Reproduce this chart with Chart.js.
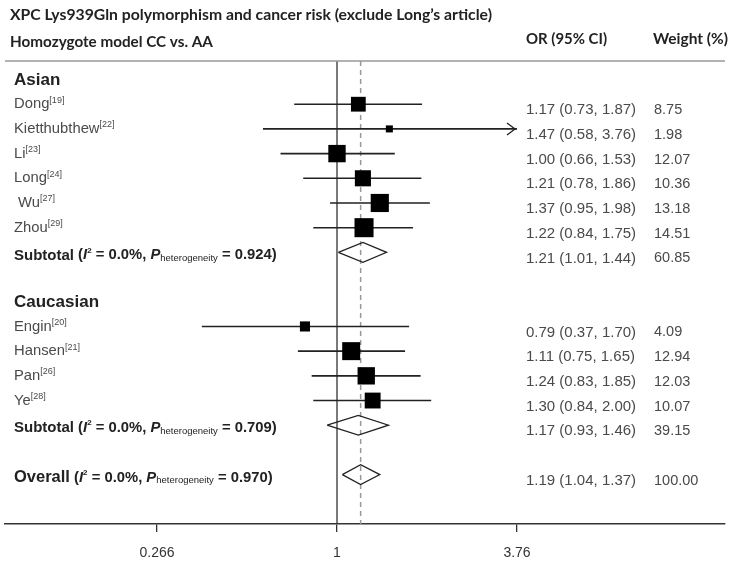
<!DOCTYPE html>
<html><head><meta charset="utf-8">
<script src="https://cdn.jsdelivr.net/npm/chart.js@4.4.0/dist/chart.umd.min.js"></script>
<style>html,body{margin:0;padding:0;background:#fff;}#wrap{width:750px;height:564px;position:relative;}</style>
</head><body><div id="wrap"><canvas id="c" width="750" height="564"></canvas></div>
<script>
// ---------- data ----------
const titleText = "XPC Lys939Gln polymorphism and cancer risk (exclude Long\u2019s article)";
const modelText = "Homozygote model CC vs. AA";
const colHeaders = ["OR (95% CI)", "Weight (%)"];
const groupNames = ["Asian", "Caucasian"];

const asianStudies = ["Dong", "Kietthubthew", "Li", "Long", " Wu", "Zhou"];
const asianRefs = ["19", "22", "23", "24", "27", "29"];
const asianOR = [1.17, 1.47, 1.00, 1.21, 1.37, 1.22];
const asianLo = [0.73, 0.58, 0.66, 0.78, 0.95, 0.84];
const asianHi = [1.87, 3.76, 1.53, 1.86, 1.98, 1.75];
const asianW  = [8.75, 1.98, 12.07, 10.36, 13.18, 14.51];

const caucStudies = ["Engin", "Hansen", "Pan", "Ye"];
const caucRefs = ["20", "21", "26", "28"];
const caucOR = [0.79, 1.11, 1.24, 1.30];
const caucLo = [0.37, 0.75, 0.83, 0.84];
const caucHi = [1.70, 1.65, 1.85, 2.00];
const caucW  = [4.09, 12.94, 12.03, 10.07];

const subtotalOR = [1.21, 1.17];
const subtotalLo = [1.01, 0.93];
const subtotalHi = [1.44, 1.46];
const subtotalW  = [60.85, 39.15];
const subtotalI2 = ["0.0%", "0.0%"];
const subtotalP  = ["0.924", "0.709"];

const overallOR = 1.19, overallLo = 1.04, overallHi = 1.37, overallW = 100.00;
const overallI2 = "0.0%", overallP = "0.970";

const tickValues = [0.266, 1, 3.76];

// ---------- build row table ----------
const rows = [];
function addGroup(gi, names, refs, or, lo, hi, w) {
  rows.push({type: 'group', label: groupNames[gi]});
  names.forEach((n, i) => rows.push({type: 'study', label: n, ref: refs[i], or: or[i], lo: lo[i], hi: hi[i], w: w[i]}));
  rows.push({type: 'sub', label: 'Subtotal', or: subtotalOR[gi], lo: subtotalLo[gi], hi: subtotalHi[gi], w: subtotalW[gi], i2: subtotalI2[gi], p: subtotalP[gi]});
  rows.push({type: 'blank'});
}
addGroup(0, asianStudies, asianRefs, asianOR, asianLo, asianHi, asianW);
addGroup(1, caucStudies, caucRefs, caucOR, caucLo, caucHi, caucW);
rows.push({type: 'overall', label: 'Overall', or: overallOR, lo: overallLo, hi: overallHi, w: overallW, i2: overallI2, p: overallP});
rows.forEach((r, i) => r.idx = i);

const clipHi = tickValues[tickValues.length - 1];
const yMin = -0.75, yMax = 18;
// axis range chosen so the axis line spans the page width
const xMin = Math.pow(clipHi, -332 / 180), xMax = Math.pow(clipHi, 388 / 180);

const ciData = [], sqData = [], sqRadius = [], diaData = [];
rows.forEach(r => {
  if (r.type === 'study') {
    ciData.push({x: r.lo, y: r.idx}, {x: Math.min(r.hi, clipHi), y: r.idx}, {x: 1, y: null});
    sqData.push({x: r.or, y: r.idx});
    sqRadius.push(5 * Math.sqrt(r.w) / Math.SQRT2);
  } else if (r.type === 'sub' || r.type === 'overall') {
    const h = 0.4;
    diaData.push({x: r.lo, y: r.idx}, {x: r.or, y: r.idx - h}, {x: r.hi, y: r.idx}, {x: r.or, y: r.idx + h}, {x: r.lo, y: r.idx}, {x: 1, y: null});
  }
});

// ---------- text plugin ----------
const SANS = '"Liberation Sans", Arial, sans-serif';
const HEAD = 'Lato, "Open Sans", sans-serif';
function fitFont(ctx, text, weight, family, target) {
  ctx.font = weight + ' 20px ' + family;
  const s = 20 * target / ctx.measureText(text).width;
  return weight + ' ' + s.toFixed(2) + 'px ' + family;
}
function drawSegs(ctx, x, y, segs) {
  segs.forEach(s => {
    ctx.font = s.f;
    ctx.fillText(s.t, x, y + (s.dy || 0));
    x += ctx.measureText(s.t).width;
  });
}
const forestText = {
  id: 'forestText',
  afterDraw(chart) {
    const {ctx, chartArea: a, scales: {x, y}} = chart;
    ctx.save();
    ctx.strokeStyle = '#999'; ctx.lineWidth = 1.5;
    ctx.beginPath(); ctx.moveTo(a.left, a.top); ctx.lineTo(a.right, a.top); ctx.stroke();

    ctx.textBaseline = 'middle'; ctx.textAlign = 'left'; ctx.fillStyle = '#222';
    ctx.font = fitFont(ctx, titleText, 'bold', HEAD, 482); ctx.fillText(titleText, 10, 15);
    ctx.font = fitFont(ctx, modelText, 'bold', HEAD, 203); ctx.fillText(modelText, 10, 42);
    ctx.font = fitFont(ctx, colHeaders[0], 'bold', HEAD, 81); ctx.fillText(colHeaders[0], 526, 39);
    ctx.font = fitFont(ctx, colHeaders[1], 'bold', HEAD, 75); ctx.fillText(colHeaders[1], 653, 39);

    const fmt = v => v.toFixed(2);
    rows.forEach(r => {
      const py = y.getPixelForValue(r.idx);
      if (r.type === 'group') {
        ctx.fillStyle = '#222'; ctx.font = 'bold 17px ' + SANS; ctx.fillText(r.label, 14, py + 1);
      } else if (r.type === 'study') {
        ctx.fillStyle = '#4a4a4a';
        drawSegs(ctx, 14, py, [{t: r.label, f: '14.8px ' + SANS}, {t: '[' + r.ref + ']', f: '9px ' + SANS, dy: -4}]);
      } else if (r.type === 'sub' || r.type === 'overall') {
        ctx.fillStyle = '#222';
        const big = r.type === 'overall' ? 'bold 16.5px ' : 'bold 15px ';
        drawSegs(ctx, 14, py + 3, [
          {t: r.label, f: big + SANS},
          {t: ' (', f: 'bold 14.8px ' + SANS},
          {t: 'I', f: 'italic bold 14.8px ' + SANS},
          {t: '2', f: 'bold 8px ' + SANS, dy: -5},
          {t: ' = ' + r.i2 + ', ', f: 'bold 14.8px ' + SANS},
          {t: 'P', f: 'italic bold 14.8px ' + SANS},
          {t: 'heterogeneity', f: '9.5px ' + SANS, dy: 3},
          {t: ' = ' + r.p + ')', f: 'bold 14.8px ' + SANS}
        ]);
      }
      if (r.or !== undefined) {
        ctx.fillStyle = '#4a4a4a'; ctx.font = '15px ' + SANS;
        ctx.fillText(fmt(r.or) + ' (' + fmt(r.lo) + ', ' + fmt(r.hi) + ')', 526, py + 6);
        ctx.font = '14.5px ' + SANS;
        ctx.fillText(fmt(r.w), 654, py + 6);
      }
      if (r.type === 'study' && r.hi >= clipHi) {
        const tx = x.getPixelForValue(clipHi) - 2;
        ctx.strokeStyle = '#222'; ctx.lineWidth = 1.3;
        ctx.beginPath(); ctx.moveTo(tx - 8, py - 6); ctx.lineTo(tx, py); ctx.lineTo(tx - 8, py + 6); ctx.stroke();
      }
    });
    ctx.restore();
  }
};

new Chart(document.getElementById('c'), {
  data: {
    datasets: [
      {type: 'scatter', data: sqData, pointStyle: 'rect', pointRadius: sqRadius, backgroundColor: '#000', borderWidth: 0, order: 1},
      {type: 'line', data: diaData, borderColor: '#222', borderWidth: 1.3, pointRadius: 0, fill: false, spanGaps: false, tension: 0, order: 2},
      {type: 'line', data: ciData, borderColor: '#222', borderWidth: 1.6, pointRadius: 0, fill: false, spanGaps: false, order: 3},
      {type: 'line', data: [{x: 1, y: yMin}, {x: 1, y: yMax}], borderColor: '#333', borderWidth: 1.3, pointRadius: 0, order: 4},
      {type: 'line', data: [{x: overallOR, y: yMin}, {x: overallOR, y: yMax}], borderColor: '#999', borderWidth: 1.5, borderDash: [5, 4], pointRadius: 0, order: 5}
    ]
  },
  options: {
    responsive: false, animation: false, events: [],
    layout: {autoPadding: false, padding: {left: 5, right: 25, top: 61, bottom: 4}},
    plugins: {legend: {display: false}, tooltip: {enabled: false}},
    scales: {
      x: {
        type: 'logarithmic', min: xMin, max: xMax,
        afterBuildTicks: s => { s.ticks = tickValues.map(v => ({value: v})); },
        afterFit: s => { s.height = 36; },
        ticks: {callback: v => String(v), color: '#333', font: {size: 14, family: SANS}, padding: 13, autoSkip: false, maxRotation: 0},
        grid: {display: true, drawOnChartArea: false, drawTicks: true, tickLength: 8, color: '#333', lineWidth: 1.3},
        border: {display: true, color: '#333', width: 1.5}
      },
      y: {type: 'linear', reverse: true, min: yMin, max: yMax, display: false}
    }
  },
  plugins: [forestText]
});
</script></body></html>
